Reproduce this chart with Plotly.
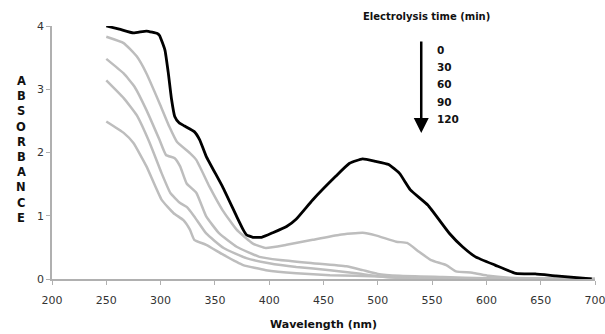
import plotly.graph_objects as go

# Wavelength (nm) / absorbance readings per electrolysis time
wl_0 = [250, 262, 275, 287, 297, 299, 304, 307, 310, 313, 317, 322, 331, 336, 342, 357, 370, 376, 379, 385, 393, 403, 416, 425, 440, 461, 474, 486, 498, 510, 520, 530, 546, 566, 578, 590, 608, 627, 645, 664, 697]
abs_0 = [4.00, 3.95, 3.89, 3.92, 3.88, 3.85, 3.62, 3.27, 2.85, 2.57, 2.47, 2.42, 2.33, 2.20, 1.94, 1.46, 0.99, 0.78, 0.70, 0.66, 0.66, 0.73, 0.83, 0.95, 1.25, 1.62, 1.83, 1.90, 1.86, 1.81, 1.67, 1.41, 1.17, 0.72, 0.51, 0.35, 0.22, 0.09, 0.08, 0.05, 0.00]

wl_30 = [250, 266, 278, 287, 299, 308, 315, 327, 333, 345, 357, 370, 385, 397, 416, 440, 465, 486, 498, 517, 527, 538, 549, 563, 572, 587, 602, 621, 650, 700]
abs_30 = [3.83, 3.73, 3.52, 3.25, 2.78, 2.41, 2.17, 1.99, 1.88, 1.46, 1.09, 0.78, 0.56, 0.49, 0.54, 0.62, 0.70, 0.73, 0.69, 0.59, 0.57, 0.43, 0.30, 0.22, 0.12, 0.10, 0.05, 0.02, 0.01, 0.00]

wl_60 = [250, 266, 276, 287, 299, 305, 313, 318, 324, 333, 342, 354, 370, 391, 410, 440, 471, 486, 500, 520, 560, 600, 700]
abs_60 = [3.48, 3.25, 3.04, 2.67, 2.20, 1.96, 1.91, 1.78, 1.51, 1.36, 0.99, 0.72, 0.51, 0.35, 0.30, 0.25, 0.20, 0.14, 0.08, 0.05, 0.03, 0.01, 0.00]

wl_90 = [250, 266, 278, 290, 301, 309, 318, 324, 331, 342, 358, 379, 400, 425, 456, 480, 502, 530, 700]
abs_90 = [3.14, 2.86, 2.59, 2.15, 1.67, 1.36, 1.20, 1.14, 0.99, 0.72, 0.49, 0.33, 0.25, 0.19, 0.14, 0.09, 0.04, 0.01, 0.00]

wl_120 = [250, 266, 275, 287, 301, 312, 321, 327, 331, 342, 358, 376, 397, 425, 456, 502, 530, 700]
abs_120 = [2.49, 2.31, 2.15, 1.78, 1.25, 1.04, 0.93, 0.78, 0.62, 0.54, 0.38, 0.22, 0.14, 0.09, 0.06, 0.04, 0.01, 0.00]

time_labels = ["0", "30", "60", "90", "120"]
x_ticks = [200, 250, 300, 350, 400, 450, 500, 550, 600, 650, 700]
y_ticks = [0, 1, 2, 3, 4]
y_title = "ABSORBANCE"

GRAY = "#bdbdbd"
fig = go.Figure()
for wl, ab in [(wl_120, abs_120), (wl_90, abs_90), (wl_60, abs_60), (wl_30, abs_30)]:
    fig.add_trace(go.Scatter(x=wl, y=ab, mode="lines", line=dict(color=GRAY, width=2.5, shape="spline", smoothing=0.4),
                             showlegend=False, hoverinfo="skip", cliponaxis=False))
fig.add_trace(go.Scatter(x=wl_0, y=abs_0, mode="lines", line=dict(color="#000000", width=2.8, shape="spline", smoothing=0.4),
                         showlegend=False, hoverinfo="skip", cliponaxis=False))

axis_common = dict(showgrid=False, zeroline=False, showline=True, linecolor="#b0b0b0", linewidth=1.5,
                   ticks="outside", tickcolor="#b0b0b0", ticklen=4, tickwidth=1, automargin=False,
                   tickfont=dict(family="DejaVu Sans", size=11, color="#333333"))
fig.update_xaxes(range=[200, 700], tickvals=x_ticks, ticktext=[str(v) for v in x_ticks], **axis_common,
                 ticklabeloverflow="allow", ticklabelstandoff=6,
                 title=dict(text="<b>Wavelength (nm)</b>", font=dict(family="DejaVu Sans", size=11, color="#111111"), standoff=14))
fig.update_yaxes(range=[0, 4], tickvals=y_ticks, ticktext=[str(v) for v in y_ticks], **axis_common)

annotations = []
n = len(y_title)
step = 15.2 / 253
for i, ch in enumerate(y_title):
    annotations.append(dict(xref="paper", yref="paper", x=-0.057, y=0.512 + (n - 1) / 2 * step - i * step,
                            text="<b>%s</b>" % ch, showarrow=False, xanchor="center", yanchor="middle",
                            font=dict(family="DejaVu Sans", size=11.5, color="#111111")))
annotations.append(dict(xref="paper", yref="paper", x=0.689, y=1.036, text="<b>Electrolysis time (min)</b>",
                        showarrow=False, xanchor="center", yanchor="middle",
                        font=dict(family="DejaVu Sans", size=10, color="#111111")))
for i, lab in enumerate(time_labels):
    annotations.append(dict(xref="paper", yref="paper", x=0.705, y=0.905 - i * 0.068, text="<b>%s</b>" % lab,
                            showarrow=False, xanchor="left", yanchor="middle",
                            font=dict(family="DejaVu Sans", size=10.5, color="#111111")))
annotations.append(dict(xref="paper", yref="paper", x=0.680, y=0.577, text="", showarrow=True,
                        ax=0, ay=-93, arrowhead=2, arrowsize=1.2, arrowwidth=2.5, arrowcolor="#000000"))

fig.update_layout(width=605, height=334, margin=dict(l=52, r=10, t=26, b=55, autoexpand=False),
                  paper_bgcolor="white", plot_bgcolor="white", annotations=annotations)
fig.write_html("out.html")
